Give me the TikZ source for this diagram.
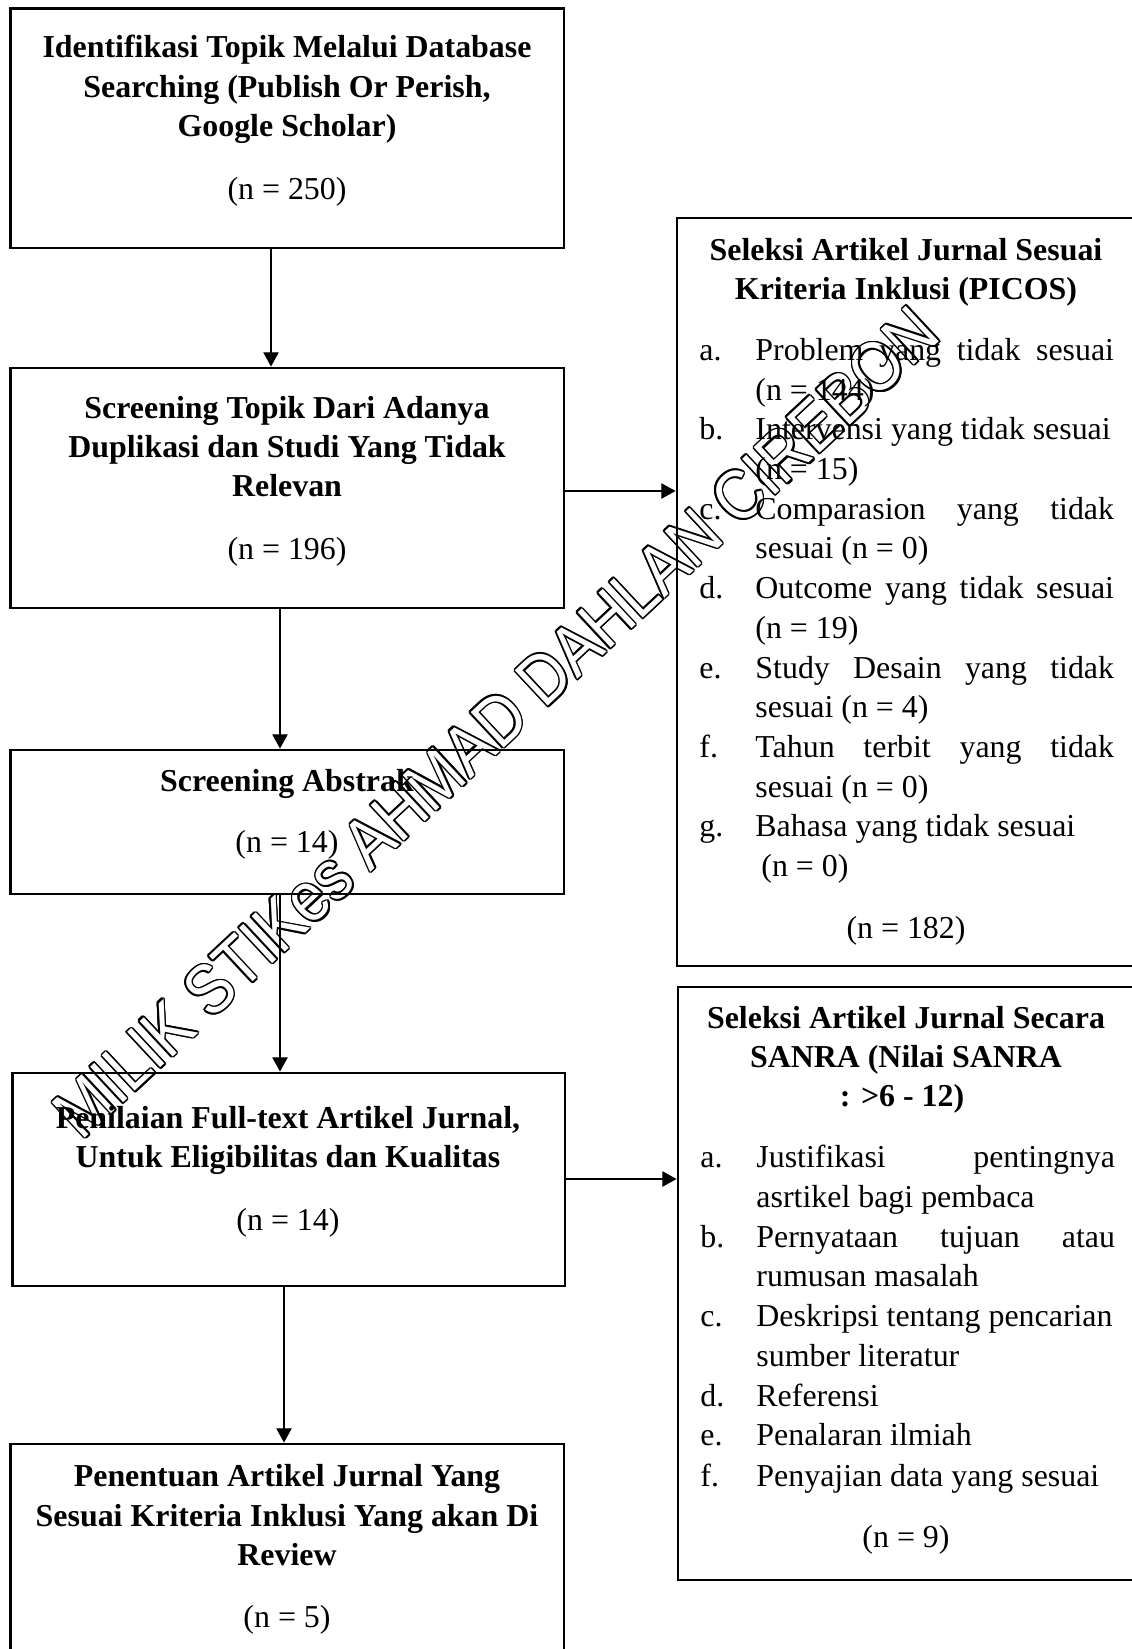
\documentclass[tikz,border=0pt]{standalone}
\usepackage{fontspec}
\setmainfont{Liberation Serif}
\newfontfamily\wmfont{Liberation Sans}
\usetikzlibrary{arrows.meta,fit,calc}
\begin{document}
\begin{tikzpicture}[x=0.4545pt,y=-0.4545pt,
  box/.style={draw,line width=1.3pt,inner sep=0pt},
  arr/.style={line width=0.6pt,-{Triangle[length=6.5pt,width=7pt]}},
  hd/.style={anchor=base,inner sep=0pt,font=\fontsize{14.5}{18}\selectfont\bfseries},
  ct/.style={anchor=base,inner sep=0pt,font=\fontsize{14.5}{18}\selectfont},
  li/.style={anchor=base west,inner sep=0pt,font=\fontsize{14.5}{18}\selectfont},
  wm/.style={inner sep=0pt,font=\wmfont\fontsize{32}{34}\selectfont}]
\clip (0,0) rectangle (1132,1649);
\fill[white] (0,0) rectangle (1132,1649);
% watermark
\coordinate (wc) at (496,722);
\begin{scope}[shift={(wc)},rotate=43,xscale=0.87,transform shape]
\foreach \a in {0,30,...,330}
  \node[wm,text=black] at (\a:0.8pt) {MILIK STIKes AHMAD DAHLAN CIREBON};
\node[wm,text=white] (wmark) at (0,0) {MILIK STIKes AHMAD DAHLAN CIREBON};
\end{scope}
% boxes
\node[box,fit={(10.5,8.4)(564,248)}] (b1) {};
\node[box,fit={(10.5,368)(564,608)}] (b2) {};
\node[box,fit={(10.5,750)(564,894)}] (b3) {};
\node[box,fit={(12.6,1073)(565,1286)}] (b4) {};
\node[box,fit={(10.5,1444)(564,1680)}] (b5) {};
\node[box,fit={(677,218)(1160,966)}] (picos) {};
\node[box,fit={(678,987)(1160,1580)}] (sanra) {};
% connectors
\coordinate (v1) at (271,0);
\coordinate (v2) at (280,0);
\coordinate (v3) at (280,0);
\coordinate (v4) at (284,0);
\coordinate (h1) at (0,491);
\coordinate (h2) at (0,1179);
\draw[arr] (b1.south -| v1) -- (b2.north -| v1);
\draw[arr] (b2.south -| v2) -- (b3.north -| v2);
\draw[arr] (b3.south -| v3) -- (b4.north -| v3);
\draw[arr] (b4.south -| v4) -- (b5.north -| v4);
\draw[arr] (b2.east |- h1) -- (picos.west |- h1);
\draw[arr] (b4.east |- h2) -- (sanra.west |- h2);
% box 1
\node[hd] (t11) at (287,57) {Identifikasi Topik Melalui Database};
\node[hd] (t12) at (287,97) {Searching (Publish Or Perish,};
\node[hd] (t13) at (287,136) {Google Scholar)};
\node[ct] (t14) at (287,199) {(n = 250)};
% box 2
\node[hd] (t21) at (287,418) {Screening Topik Dari Adanya};
\node[hd] (t22) at (287,457) {Duplikasi dan Studi Yang Tidak};
\node[hd] (t23) at (287,496) {Relevan};
\node[ct] (t24) at (287,559) {(n = 196)};
% box 3
\node[hd] (t31) at (287,791) {Screening Abstrak};
\node[ct] (t32) at (287,852) {(n = 14)};
% box 4
\node[hd] (t41) at (288,1128) {Penilaian Full-text Artikel Jurnal,};
\node[hd] (t42) at (288,1167) {Untuk Eligibilitas dan Kualitas};
\node[ct] (t43) at (288,1230) {(n = 14)};
% box 5
\node[hd] (t51) at (287,1486) {Penentuan Artikel Jurnal Yang};
\node[hd] (t52) at (287,1526) {Sesuai Kriteria Inklusi Yang akan Di};
\node[hd] (t53) at (287,1565) {Review};
\node[ct] (t54) at (287,1627) {(n = 5)};
% PICOS box
\node[hd] (p1) at (906,260) {Seleksi Artikel Jurnal Sesuai};
\node[hd] (p2) at (906,299) {Kriteria Inklusi (PICOS)};
\node[li] (pla) at (699,360) {a.};
\node[li] (pa1) at (755,360) {\makebox[163pt][s]{Problem yang tidak sesuai}};
\node[li] (pa2) at (755,400) {(n = 144)};
\node[li] (plb) at (699,439) {b.};
\node[li] (pb1) at (755,439) {Intervensi yang tidak sesuai};
\node[li] (pb2) at (755,479) {(n = 15)};
\node[li] (plc) at (699,519) {c.};
\node[li] (pc1) at (755,519) {\makebox[163pt][s]{Comparasion yang tidak}};
\node[li] (pc2) at (755,558) {sesuai (n = 0)};
\node[li] (pld) at (699,598) {d.};
\node[li] (pd1) at (755,598) {\makebox[163pt][s]{Outcome yang tidak sesuai}};
\node[li] (pd2) at (755,638) {(n = 19)};
\node[li] (ple) at (699,678) {e.};
\node[li] (pe1) at (755,678) {\makebox[163pt][s]{Study Desain yang tidak}};
\node[li] (pe2) at (755,717) {sesuai (n = 4)};
\node[li] (plf) at (699,757) {f.};
\node[li] (pf1) at (755,757) {\makebox[163pt][s]{Tahun terbit yang tidak}};
\node[li] (pf2) at (755,797) {sesuai (n = 0)};
\node[li] (plg) at (699,836) {g.};
\node[li] (pg1) at (755,836) {Bahasa yang tidak sesuai};
\node[li] (pg2) at (761,876) {(n = 0)};
\node[ct] (pn) at (906,938) {(n = 182)};
% SANRA box
\node[hd] (s1) at (906,1028) {Seleksi Artikel Jurnal Secara};
\node[hd] (s2) at (906,1067) {SANRA (Nilai SANRA};
\node[hd] (s3) at (902,1106) {: >6 - 12)};
\node[li] (sla) at (700,1167) {a.};
\node[li] (sa1) at (756,1167) {\makebox[163pt][s]{Justifikasi pentingnya}};
\node[li] (sa2) at (756,1207) {asrtikel bagi pembaca};
\node[li] (slb) at (700,1247) {b.};
\node[li] (sb1) at (756,1247) {\makebox[163pt][s]{Pernyataan tujuan atau}};
\node[li] (sb2) at (756,1286) {rumusan masalah};
\node[li] (slc) at (700,1326) {c.};
\node[li] (sc1) at (756,1326) {Deskripsi tentang pencarian};
\node[li] (sc2) at (756,1366) {sumber literatur};
\node[li] (sld) at (700,1406) {d.};
\node[li] (sd1) at (756,1406) {Referensi};
\node[li] (sle) at (700,1445) {e.};
\node[li] (se1) at (756,1445) {Penalaran ilmiah};
\node[li] (slf) at (700,1486) {f.};
\node[li] (sf1) at (756,1486) {Penyajian data yang sesuai};
\node[ct] (sn) at (906,1547) {(n = 9)};
\end{tikzpicture}
\end{document}
